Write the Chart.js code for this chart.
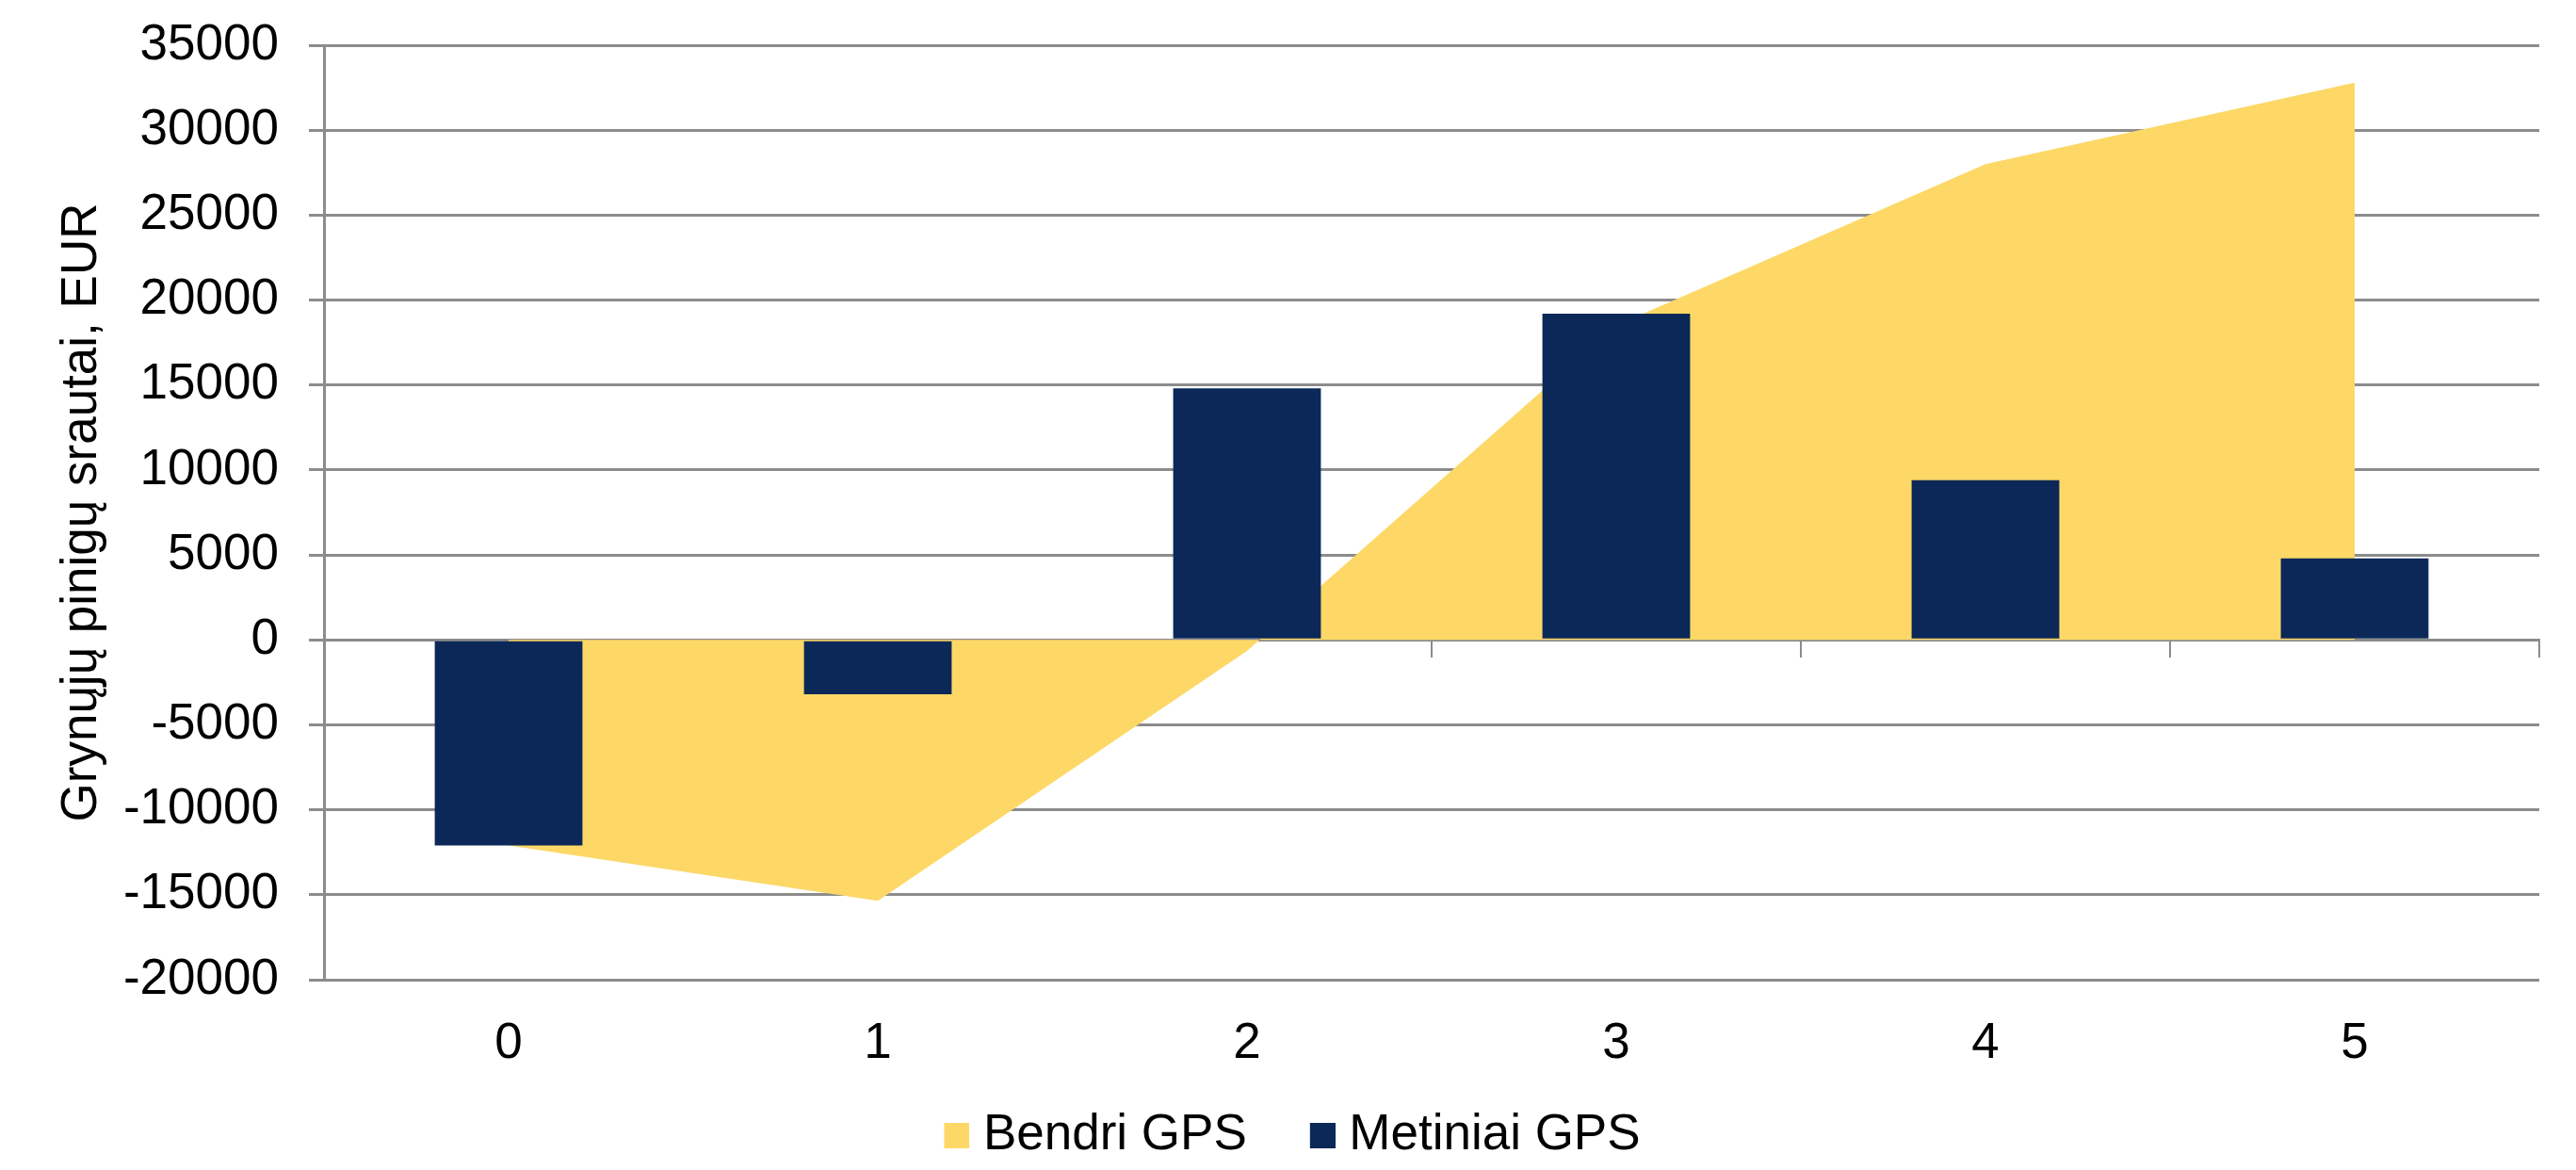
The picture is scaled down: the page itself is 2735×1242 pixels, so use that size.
<!DOCTYPE html>
<html>
<head>
<meta charset="utf-8">
<script src="https://cdn.jsdelivr.net/npm/chart.js@4/dist/chart.umd.min.js"></script>
<style>
  html, body { margin: 0; padding: 0; background: #fff; }
  canvas { display: block; }
</style>
</head>
<body>
<canvas id="c" width="2735" height="1242"></canvas>
<script>
// Periods (years) and cash-flow series, EUR
const categories = ['0', '1', '2', '3', '4', '5'];
const bendriGPS = [-12100, -15350, -650, 18500, 28000, 32800];   // cumulative net cash flow
const metiniaiGPS = [-12100, -3200, 14800, 19200, 9400, 4800];   // yearly net cash flow
const seriesNames = ['Bendri GPS', 'Metiniai GPS'];
const yAxisTitle = 'Grynųjų pinigų srautai, EUR';
const yMin = -20000;
const yMax = 35000;
const yStep = 5000;

const YELLOW = '#FDD867';
const NAVY = '#0C2858';
const GRID = '#8c8c8c';
const FONT = "'Liberation Sans', Arial, sans-serif";
const FS = 53;

// Square legend swatch, placed at the right end of a transparent strip
function swatch(color) {
  const c = document.createElement('canvas');
  c.width = 66; c.height = 27;
  const g = c.getContext('2d');
  g.fillStyle = color;
  g.fillRect(39, 0, 27, 27);
  return c;
}
const swatches = [swatch(YELLOW), swatch(NAVY)];

new Chart(document.getElementById('c'), {
  data: {
    labels: categories,
    datasets: [
      {
        type: 'line',
        label: seriesNames[0],
        data: bendriGPS,
        order: 1,
        fill: 'origin',
        backgroundColor: YELLOW,
        borderColor: YELLOW,
        borderWidth: 0,
        pointRadius: 0,
        pointHoverRadius: 0,
        tension: 0
      },
      {
        type: 'bar',
        label: seriesNames[1],
        data: metiniaiGPS,
        order: 0,
        backgroundColor: NAVY,
        borderWidth: 0,
        barPercentage: 0.4,
        categoryPercentage: 1.0
      }
    ]
  },
  options: {
    responsive: false,
    animation: false,
    devicePixelRatio: 1,
    layout: { padding: { left: 21, right: 39, top: 48, bottom: 0 } },
    plugins: {
      tooltip: { enabled: false },
      legend: {
        position: 'bottom',
        labels: {
          font: { family: FONT, size: FS },
          color: '#000',
          usePointStyle: true,
          pointStyleWidth: 42,
          boxHeight: 27,
          padding: 40,
          generateLabels(chart) {
            const items = Chart.defaults.plugins.legend.labels.generateLabels(chart);
            items.forEach(it => { it.pointStyle = swatches[it.datasetIndex]; });
            return items.sort((a, b) => a.datasetIndex - b.datasetIndex);
          }
        }
      }
    },
    scales: {
      x: {
        type: 'category',
        offset: true,
        grid: { display: false, drawTicks: false },
        border: { display: false },
        ticks: { font: { family: FONT, size: FS, lineHeight: 1 }, color: '#000', padding: 42, maxRotation: 0 },
        afterFit(s) {
          s.height = Math.max(0, 1242 - 1040 - s.chart.legend.height);
          s.paddingLeft = 0; s.paddingRight = 0;
        }
      },
      // horizontal axis line crossing at zero, with tick marks between periods
      x2: {
        type: 'category',
        axis: 'x',
        position: { y: 0 },
        offset: true,
        z: 1,
        grid: { display: true, drawOnChartArea: false, drawTicks: true, tickLength: 17, offset: true, color: GRID, lineWidth: 2 },
        border: { display: true, color: GRID, width: 3 },
        ticks: { display: false }
      },
      y: {
        min: yMin,
        max: yMax,
        ticks: {
          stepSize: yStep,
          font: { family: FONT, size: FS },
          color: '#000',
          padding: 32,
          callback: v => String(v)
        },
        grid: { color: GRID, lineWidth: 3, tickLength: 16, drawTicks: true },
        border: { display: true, color: GRID, width: 3 },
        title: {
          display: true,
          text: yAxisTitle,
          font: { family: FONT, size: FS, lineHeight: 1 },
          color: '#000',
          padding: { top: 40, bottom: 0 }
        },
        afterFit(s) {
          s.width = 344 - 21;
          s.paddingTop = 0; s.paddingBottom = 0;
        }
      }
    }
  }
});
</script>
</body>
</html>
